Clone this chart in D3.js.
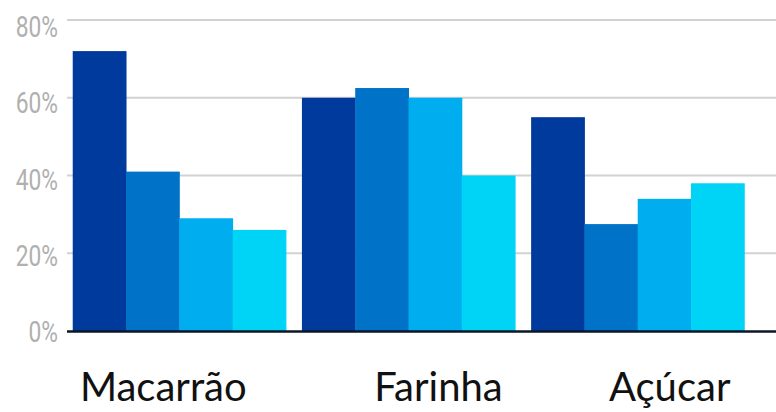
<!DOCTYPE html>
<html>
<head>
<meta charset="utf-8">
<script src="https://cdn.jsdelivr.net/npm/d3@7"></script>
<style>
  html, body { margin: 0; padding: 0; background: #ffffff; }
  svg { display: block; }
</style>
</head>
<body>
<div id="chart"></div>
<script>
// ---- data ----
const categories = ["Macarrão", "Farinha", "Açúcar"];
const seriesNames = ["s1", "s2", "s3", "s4"];
const s1 = [72, 60, 55];
const s2 = [41, 62.5, 27.5];
const s3 = [29, 60, 34];
const s4 = [26, 40, 38];
const yTicks = [0, 20, 40, 60, 80];
const yTickLabels = ["0%", "20%", "40%", "60%", "80%"];

// ---- layout / style ----
const W = 776, H = 412;
const colors = ["#003a9c", "#0072c8", "#00adef", "#00d4f6"];
const labelDx = [-16, 30, 32];

const svg = d3.select("#chart").append("svg")
  .attr("width", W).attr("height", H);

const x0 = d3.scaleBand().domain(categories).range([67, 750])
  .paddingInner(0.07).paddingOuter(0.025);
const x1 = d3.scaleBand().domain(seriesNames).range([0, x0.bandwidth()]).padding(0);
const y = d3.scaleLinear().domain([0, 80]).range([331, 20]);
const yLab = d3.scaleLinear().domain([0, 80]).range([342, 37]);

// gridlines
svg.append("g").selectAll("line")
  .data(yTicks.filter(d => d > 0))
  .join("line")
  .attr("x1", 67).attr("x2", W)
  .attr("y1", d => y(d)).attr("y2", d => y(d))
  .attr("stroke", "#d2d2d2").attr("stroke-width", 2);

// y labels (condensed)
svg.append("g").selectAll("text")
  .data(yTicks)
  .join("text")
  .attr("transform", d => `translate(58,${yLab(d)}) scale(0.76,1)`)
  .attr("text-anchor", "end")
  .attr("font-family", "Roboto, 'DejaVu Sans', sans-serif")
  .attr("font-weight", 400)
  .attr("font-size", 30)
  .attr("fill", "#b0b0b0")
  .text((d, i) => yTickLabels[i]);

// bars
const series = [s1, s2, s3, s4];
const rows = categories.map((c, i) => ({
  cat: c,
  vals: seriesNames.map((s, j) => ({ key: s, value: series[j][i], idx: j }))
}));

const groups = svg.append("g").selectAll("g")
  .data(rows)
  .join("g")
  .attr("transform", d => `translate(${x0(d.cat)},0)`);

groups.selectAll("rect")
  .data(d => d.vals)
  .join("rect")
  .attr("x", d => x1(d.key))
  .attr("width", x1.bandwidth() + 0.5)
  .attr("y", d => y(d.value))
  .attr("height", d => y(0) - y(d.value))
  .attr("fill", d => colors[d.idx]);

// baseline axis
svg.append("line")
  .attr("x1", 67).attr("x2", W)
  .attr("y1", y(0) + 0.5).attr("y2", y(0) + 0.5)
  .attr("stroke", "#0b1626").attr("stroke-width", 2.5);

// category labels
svg.append("g").selectAll("text")
  .data(categories)
  .join("text")
  .attr("x", (d, i) => x0(d) + x0.bandwidth() / 2 + labelDx[i])
  .attr("y", 401)
  .attr("text-anchor", "middle")
  .attr("font-family", "Lato, 'Open Sans', sans-serif")
  .attr("font-size", 40)
  .attr("fill", "#111111")
  .text(d => d);
</script>
</body>
</html>
